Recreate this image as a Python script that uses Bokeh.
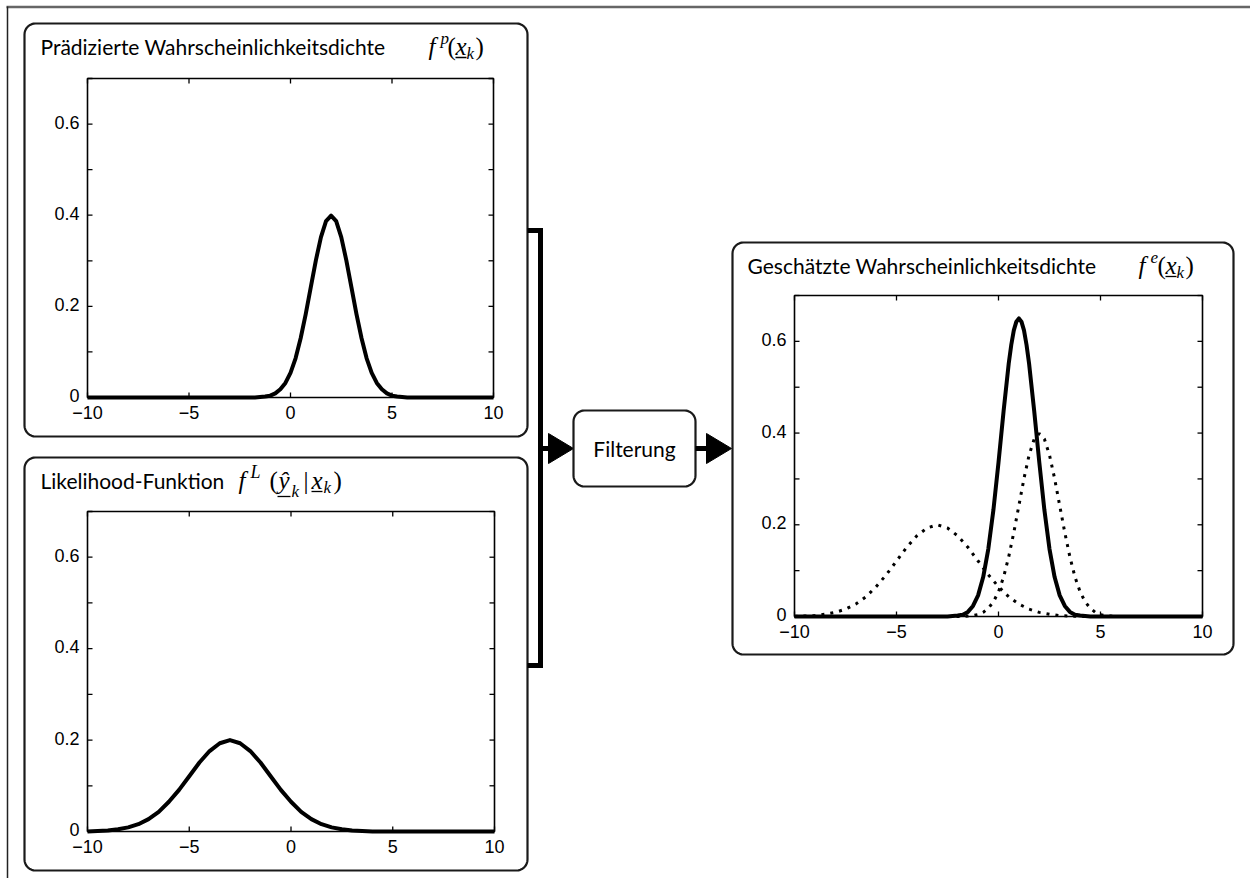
import numpy as np
from bokeh.plotting import figure
from bokeh.models import Range1d
from bokeh.embed import file_html
from bokeh.resources import INLINE
from bokeh.core.properties import value

# ---------------- data ----------------
X_LIM = [-10, 10]
Y_LIM = [0, 0.7]
X_TICKS = [-10, -5, 0, 5, 10]
X_TICK_LABELS = ["\u221210", "\u22125", "0", "5", "10"]
Y_TICKS = [0, 0.1, 0.2, 0.3, 0.4, 0.5, 0.6, 0.7]
Y_LABEL_VALUES = [0, 0.2, 0.4, 0.6]
Y_LABELS = ["0", "0.2", "0.4", "0.6"]

# predicted density f^p
PRED_X = [-10, -2, -1.75, -1.5, -1.25, -1, -0.75, -0.5, -0.25, 0, 0.25, 0.5, 0.75, 1,
          1.25, 1.5, 1.75, 2, 2.25, 2.5, 2.75, 3, 3.25, 3.5, 3.75, 4, 4.25, 4.5, 4.75,
          5, 5.25, 5.5, 5.75, 6, 10]
PRED_Y = [0, 0, 0, 0.001, 0.002, 0.004, 0.009, 0.018, 0.032, 0.054, 0.086, 0.130, 0.183,
          0.242, 0.301, 0.352, 0.387, 0.399, 0.387, 0.352, 0.301, 0.242, 0.183, 0.130,
          0.086, 0.054, 0.032, 0.018, 0.009, 0.004, 0.002, 0.001, 0, 0, 0]

# likelihood f^L
LIK_X = [-10, -9.5, -9, -8.5, -8, -7.5, -7, -6.5, -6, -5.5, -5, -4.5, -4, -3.5, -3, -2.5,
         -2, -1.5, -1, -0.5, 0, 0.5, 1, 1.5, 2, 2.5, 3, 3.5, 4, 10]
LIK_Y = [0, 0.001, 0.002, 0.005, 0.009, 0.016, 0.027, 0.043, 0.065, 0.091, 0.121, 0.151,
         0.176, 0.193, 0.200, 0.193, 0.176, 0.151, 0.121, 0.091, 0.065, 0.043, 0.027,
         0.016, 0.009, 0.005, 0.002, 0.001, 0, 0]

# estimated density f^e
EST_X = [-10, -2.5, -2.25, -2, -1.75, -1.5, -1.25, -1, -0.75, -0.5, -0.25, 0, 0.25, 0.5,
         0.625, 0.75, 0.875, 1, 1.125, 1.25, 1.375, 1.5, 1.75, 2, 2.25, 2.5, 2.75, 3,
         3.25, 3.5, 3.75, 4, 4.25, 4.5, 10]
EST_Y = [0, 0, 0.001, 0.002, 0.004, 0.010, 0.023, 0.046, 0.086, 0.147, 0.232, 0.336,
         0.448, 0.551, 0.592, 0.624, 0.643, 0.650, 0.643, 0.624, 0.592, 0.551, 0.448,
         0.336, 0.232, 0.147, 0.086, 0.046, 0.023, 0.010, 0.004, 0.002, 0.001, 0, 0]

TITLES = ["Prädizierte Wahrscheinlichkeitsdichte",
          "Likelihood-Funktion",
          "Geschätzte Wahrscheinlichkeitsdichte"]
FILTER_LABEL = "Filterung"

# ---------------- styling ----------------
INK = "#000000"
SANS = value("Lato")
SERIF = value("Liberation Serif")
TICK_FONT = value("Liberation Sans")

W, H = 1250, 878
p = figure(width=W, height=H, x_range=Range1d(0, W), y_range=Range1d(H, 0),
           output_backend="svg", toolbar_location=None, min_border=0,
           x_axis_location=None, y_axis_location=None, outline_line_color=None)
p.grid.visible = False
p.background_fill_color = "white"
p.border_fill_color = "white"

# outer frame lines
p.line([6, W], [6.5, 6.5], line_color="#666666", line_width=2.5)
p.line([7, 7], [6, H], line_color="#222222", line_width=1.5)


def rrect(x0, y0, x1, y1, r, n=10):
    xs, ys = [], []
    corners = [(x1 - r, y0 + r, -90, 0), (x1 - r, y1 - r, 0, 90),
               (x0 + r, y1 - r, 90, 180), (x0 + r, y0 + r, 180, 270)]
    for cx, cy, a0, a1 in corners:
        for a in np.linspace(np.radians(a0), np.radians(a1), n):
            xs.append(cx + r * np.cos(a))
            ys.append(cy + r * np.sin(a))
    xs.append(xs[0])
    ys.append(ys[0])
    return xs, ys


def box(x0, y0, x1, y1, r=11):
    xs, ys = rrect(x0, y0, x1, y1, r)
    p.patch(xs, ys, fill_color="white", line_color="#1a1a1a", line_width=2.2)


# panel boxes
box(24, 23, 527, 436)
box(24, 457, 527, 870)
box(732, 242, 1233, 654)

# connector bracket and arrows
p.line([527, 540, 540, 527], [230, 230, 665, 665], line_color="black", line_width=5,
       line_join="miter")
p.line([540, 550], [448, 448], line_color="black", line_width=5)
p.patch([548, 573, 548], [433, 448, 463], fill_color="black", line_color="black")
box(573, 410, 695, 486, r=11)
p.text(x=[634], y=[448], text=[FILTER_LABEL], text_font=SANS, text_font_size=value("21px"),
       text_align="center", text_baseline="middle", text_color=INK)
p.line([695, 708], [448, 448], line_color="black", line_width=5)
p.patch([706, 731, 706], [433, 448, 463], fill_color="black", line_color="black")

MS, SS = 25, 17  # math font sizes


def piece(x, base, txt, size, italic=True):
    mid = base - 0.3375 * size
    p.text(x=[x], y=[mid], text=[txt], text_font=SERIF, text_font_size=value(f"{size}px"),
           text_font_style="italic" if italic else "normal", text_align="left",
           text_baseline="middle", text_color=INK)


def uline(x0, x1, y):
    p.line([x0, x1], [y, y], line_color=INK, line_width=1.3)


def title(x, base, txt):
    p.text(x=[x], y=[base - 8], text=[txt], text_font=SANS, text_font_size=value("21px"),
           text_align="left", text_baseline="middle", text_color=INK)


def math_fx(fx, by, sup):
    piece(fx, by, "f", MS)
    piece(fx + 12, by - 10, sup, SS)
    piece(fx + 19, by, "(", MS, italic=False)
    piece(fx + 27, by, "x", MS)
    uline(fx + 27, fx + 38, by + 3)
    piece(fx + 38, by + 5, "k", SS)
    piece(fx + 47, by, ")", MS, italic=False)


# titles
title(40, 54, TITLES[0])
math_fx(428, 54, "p")
title(40, 488, TITLES[1])
fx, by = 238, 488
piece(fx, by, "f", MS)
piece(fx + 12, by - 10, "L", 18)
piece(fx + 31, by, "(", MS, italic=False)
piece(fx + 40, by, "\u0177", MS)
uline(fx + 39, fx + 52, by + 8)
piece(fx + 53, by + 9, "k", SS)
piece(fx + 65, by, "|", MS, italic=False)
piece(fx + 73, by, "x", MS)
uline(fx + 73, fx + 84, by + 3)
piece(fx + 85, by + 5, "k", SS)
piece(fx + 95, by, ")", MS, italic=False)
title(747, 273, TITLES[2])
math_fx(1138, 273, "e")


# ---------------- plot panels via sub-coordinates ----------------
def panel(fx0, fx1, fyb, fyt):
    sub = p.subplot(x_source=Range1d(*X_LIM), y_source=Range1d(*Y_LIM),
                    x_target=Range1d(fx0, fx1), y_target=Range1d(fyb, fyt))
    tlx = 5.0 * (X_LIM[1] - X_LIM[0]) / (fx1 - fx0)
    tly = 5.0 * (Y_LIM[1] - Y_LIM[0]) / (fyb - fyt)
    n = len(X_TICKS)
    m = len(Y_TICKS)
    # ticks (inward, all four sides)
    sub.segment(x0=X_TICKS, y0=[Y_LIM[0]] * n, x1=X_TICKS, y1=[Y_LIM[0] + tly] * n,
                line_color="black", line_width=1.3)
    sub.segment(x0=X_TICKS, y0=[Y_LIM[1]] * n, x1=X_TICKS, y1=[Y_LIM[1] - tly] * n,
                line_color="black", line_width=1.3)
    sub.segment(x0=[X_LIM[0]] * m, y0=Y_TICKS, x1=[X_LIM[0] + tlx] * m, y1=Y_TICKS,
                line_color="black", line_width=1.3)
    sub.segment(x0=[X_LIM[1]] * m, y0=Y_TICKS, x1=[X_LIM[1] - tlx] * m, y1=Y_TICKS,
                line_color="black", line_width=1.3)
    # frame
    sub.quad(left=[X_LIM[0]], right=[X_LIM[1]], bottom=[Y_LIM[0]], top=[Y_LIM[1]],
             fill_color=None, line_color="black", line_width=1.6)
    # tick labels
    sub.text(x=X_TICKS, y=[Y_LIM[0]] * n, text=X_TICK_LABELS, y_offset=15,
             text_font=TICK_FONT, text_font_size=value("18px"), text_align="center",
             text_baseline="middle", text_color=INK)
    sub.text(x=[X_LIM[0]] * len(Y_LABEL_VALUES), y=Y_LABEL_VALUES, text=Y_LABELS,
             x_offset=-8, y_offset=-2, text_font=TICK_FONT, text_font_size=value("18px"),
             text_align="right", text_baseline="middle", text_color=INK)
    return sub


s1 = panel(87, 493, 397, 78)
s1.line(PRED_X, PRED_Y, line_color="black", line_width=4, line_join="round")

s2 = panel(87, 494, 831, 511)
s2.line(LIK_X, LIK_Y, line_color="black", line_width=4, line_join="round")

s3 = panel(794, 1202, 616, 295)
s3.line(PRED_X, PRED_Y, line_color="black", line_width=3, line_dash="3 6")
s3.line(LIK_X, LIK_Y, line_color="black", line_width=3, line_dash="3 6")
s3.line(EST_X, EST_Y, line_color="black", line_width=4, line_join="round")

open("out.html", "w").write(file_html(p, INLINE))
